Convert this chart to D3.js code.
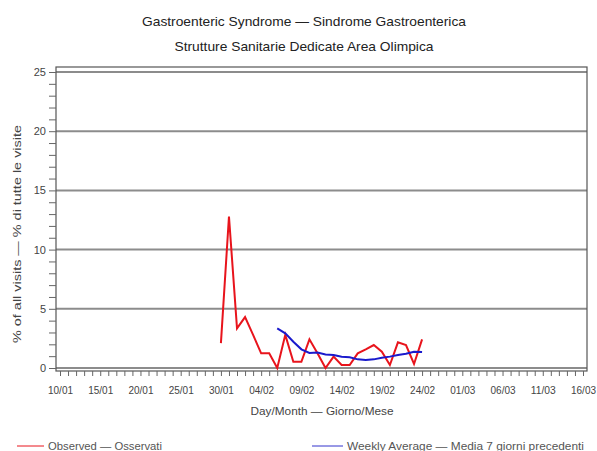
<!DOCTYPE html>
<html><head><meta charset="utf-8">
<script src="https://cdn.jsdelivr.net/npm/d3@7"></script>
<style>body{margin:0;background:#fff}svg{display:block;font-family:"Liberation Sans",Arial,sans-serif}</style>
</head><body><svg id="c" width="597" height="451"></svg>
<script>
const titleLines = ["Gastroenteric Syndrome \u2014 Sindrome Gastroenterica", "Strutture Sanitarie Dedicate Area Olimpica"];
const yTitle = "% of all visits \u2014 % di tutte le visite";
const xTitle = "Day/Month \u2014 Giorno/Mese";
const legendLabels = ["Observed \u2014 Osservati", "Weekly Average \u2014 Media 7 giorni precedenti"];
const xStart = "2006-01-10", xEnd = "2006-03-16";
const yTickValues = [0, 5, 10, 15, 20, 25];
// observed series: 30/01 .. 24/02
const observedStart = "2006-01-30";
const observed = [2.1, 12.8, 3.35, 4.3, 2.8, 1.24, 1.24, 0, 2.8, 0.53, 0.53, 2.42, 1.25, 0, 0.96, 0.25, 0.25, 1.24, 1.58, 1.94, 1.38, 0.25, 2.17, 1.94, 0.34, 2.42];
// weekly average: 06/02 .. 24/02
const weeklyStart = "2006-02-06";
const weekly = [3.35, 2.93, 2.22, 1.58, 1.27, 1.3, 1.15, 1.1, 0.96, 0.9, 0.73, 0.68, 0.73, 0.87, 0.96, 1.1, 1.2, 1.38, 1.35];

const parse = d3.utcParse("%Y-%m-%d");
const fmt = d3.utcFormat("%d/%m");
const svg = d3.select("#c");
const L = 56, R = 587, T = 67, B = 371;
const x = d3.scaleUtc().domain([parse(xStart), parse(xEnd)]).range([60, 583]);
const y = d3.scaleLinear().domain([0, 25]).range([368, 72]);

// titles
const titleW = [324, 259];
svg.selectAll("text.title").data(titleLines).join("text").attr("class","title")
  .attr("x", 304).attr("y", (d,i)=>26+i*25).attr("text-anchor","middle")
  .attr("font-size", 13.5).attr("fill","#222")
  .attr("textLength",(d,i)=>titleW[i]).attr("lengthAdjust","spacingAndGlyphs").text(d=>d);

// grid lines
svg.append("g").selectAll("line").data(yTickValues).join("line")
  .attr("x1", L).attr("x2", R).attr("y1", d=>y(d)).attr("y2", d=>y(d))
  .attr("stroke", "#8c8c8c").attr("stroke-width", 2);

// frame
svg.append("rect").attr("x", L).attr("y", T).attr("width", R-L).attr("height", B-T)
  .attr("fill","none").attr("stroke","#555").attr("stroke-width",1.2);

// y axis
const yAxis = d3.axisLeft(y).tickValues(d3.range(0, 26, 1)).tickSize(7)
  .tickFormat(d => yTickValues.includes(d) ? d : "");
svg.append("g").attr("transform", `translate(${L},0)`).call(yAxis)
  .call(g=>g.select(".domain").remove())
  .call(g=>g.selectAll("line").attr("stroke","#666"))
  .call(g=>g.selectAll("text").attr("font-size",11).attr("fill","#444").attr("font-family","Liberation Sans,Arial,sans-serif").attr("x",-10));

// x axis
const days = d3.utcDay.range(parse(xStart), d3.utcDay.offset(parse(xEnd),1));
const labelDays = days.filter((d,i)=>i%5===0);
const xAxis = d3.axisBottom(x).tickValues(days).tickSize(5)
  .tickFormat(d => labelDays.some(l=>+l===+d) ? fmt(d) : "");
svg.append("g").attr("transform", `translate(0,${B})`).call(xAxis)
  .call(g=>g.select(".domain").remove())
  .call(g=>g.selectAll("line").attr("stroke","#666"))
  .call(g=>g.selectAll("text").attr("font-size",10).attr("fill","#444").attr("font-family","Liberation Sans,Arial,sans-serif").attr("y",16).attr("textLength",25).attr("lengthAdjust","spacingAndGlyphs"));

// axis titles
svg.append("text").attr("transform","translate(21,234) rotate(-90)").attr("text-anchor","middle")
  .attr("font-size",11).attr("fill","#444").attr("textLength",218).attr("lengthAdjust","spacingAndGlyphs").text(yTitle);
svg.append("text").attr("x",322).attr("y",415).attr("text-anchor","middle")
  .attr("font-size",10.5).attr("fill","#444").attr("textLength",143).attr("lengthAdjust","spacingAndGlyphs").text(xTitle);

// lines
const obsData = observed.map((v,i)=>({d:d3.utcDay.offset(parse(observedStart),i), v}));
const wkData = weekly.map((v,i)=>({d:d3.utcDay.offset(parse(weeklyStart),i), v}));
const line = d3.line().x(p=>x(p.d)).y(p=>y(p.v));
svg.append("path").datum(obsData).attr("d",line).attr("fill","none").attr("stroke","#e8141c").attr("stroke-width",2);
svg.append("path").datum(wkData).attr("d",line).attr("fill","none").attr("stroke","#1a1acc").attr("stroke-width",2);

// legend
const leg = [{c:"#e8141c", x1:17, x2:44, t:legendLabels[0], w:114}, {c:"#3333cc", x1:312, x2:343, t:legendLabels[1], w:237}];
const lg = svg.append("g");
lg.selectAll("line").data(leg).join("line").attr("x1",d=>d.x1).attr("x2",d=>d.x2)
  .attr("y1",446).attr("y2",446).attr("stroke",d=>d.c).attr("stroke-width",1);
lg.selectAll("text").data(leg).join("text").attr("x",d=>d.x2+4).attr("y",450)
  .attr("font-size",10.5).attr("fill","#555").attr("textLength",d=>d.w).attr("lengthAdjust","spacingAndGlyphs").text(d=>d.t);
</script></body></html>
